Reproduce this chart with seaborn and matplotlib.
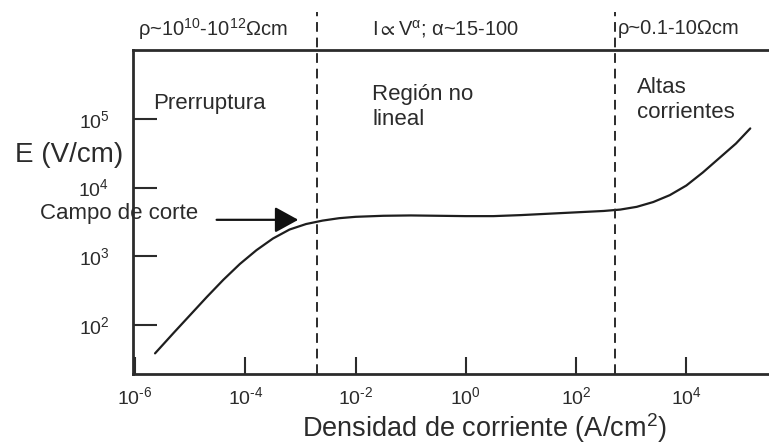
import matplotlib
matplotlib.use("Agg")
import matplotlib.pyplot as plt
import numpy as np
import pandas as pd
import seaborn as sns

# curve (exponents of ten)
log_current = [-5.64, -5.30, -5.00, -4.70, -4.40, -4.10, -3.80, -3.50, -3.20,
               -2.90, -2.60, -2.30, -2.00, -1.50, -1.00, -0.50, 0.00, 0.50,
               1.00, 1.50, 2.00, 2.50, 2.80, 3.10, 3.40, 3.70, 4.00, 4.30,
               4.60, 4.90, 5.16]
log_field = [1.59, 1.89, 2.15, 2.41, 2.66, 2.89, 3.09, 3.26, 3.39,
             3.47, 3.52, 3.555, 3.575, 3.59, 3.595, 3.59, 3.585, 3.585,
             3.60, 3.62, 3.64, 3.66, 3.68, 3.72, 3.79, 3.89, 4.03, 4.22,
             4.43, 4.64, 4.86]

region_bounds = [2e-3, 5e2]
x_exps = [-6, -4, -2, 0, 2, 4]
y_exps = [2, 3, 4, 5]
top_labels = ["ρ~10$^{10}$-10$^{12}$Ωcm", "I$\\propto$V$^{α}$; α~15-100",
              "ρ~0.1-10Ωcm"]
region_labels = ["Prerruptura", "Región no\nlineal", "Altas\ncorrientes"]
cutoff_point = (9.1e-4, 3.4e3)
cutoff_tail = (3.0e-5, 3.4e3)

df = pd.DataFrame({"j": 10.0 ** np.array(log_current),
                   "E": 10.0 ** np.array(log_field)})

sns.set_theme(style="ticks")
plt.rcParams["font.family"] = ["Liberation Sans", "DejaVu Sans"]
plt.rcParams["mathtext.fontset"] = "custom"
plt.rcParams["mathtext.rm"] = "Liberation Sans"
plt.rcParams["mathtext.it"] = "Liberation Sans"
plt.rcParams["mathtext.default"] = "regular"


def power_label(e):
    # plain hyphen in the exponent, as in the original figure
    return "10$^{\\text{%s}}$" % ("-%d" % -e if e < 0 else "%d" % e)


ink = "#2b2b2b"
W, H = 769, 445
fig = plt.figure(figsize=(W / 100, H / 100), dpi=100)
ax = fig.add_axes([133 / W, (H - 374) / H, (W - 133) / W, (374 - 50) / H])

sns.lineplot(data=df, x="j", y="E", ax=ax, color="#1e1e1e", linewidth=1.6,
             sort=False, estimator=None)
ax.set_xscale("log")
ax.set_yscale("log")
ax.set_xlim(10 ** -6.04, 10 ** 5.5)
ax.set_ylim(10 ** 1.29, 10 ** 6.0)
ax.set_xticks([10.0 ** e for e in x_exps], [power_label(e) for e in x_exps])
ax.set_yticks([10.0 ** e for e in y_exps], [power_label(e) for e in y_exps])
ax.minorticks_off()

for side in ["left", "bottom", "top"]:
    ax.spines[side].set_linewidth(2.0)
    ax.spines[side].set_color(ink)
ax.spines["right"].set_visible(False)
ax.tick_params(axis="y", direction="in", length=17, width=1.5, pad=17,
               labelsize=14, colors=ink)
ax.tick_params(axis="x", direction="in", length=12, width=1.5, pad=9,
               labelsize=14, colors=ink)

for xb in region_bounds:
    ax.axvline(xb, ymin=0, ymax=1.117, clip_on=False, color=ink,
               linewidth=1.4, linestyle=(0, (5, 3)))

ax.set_xlabel("Densidad de corriente (A/cm$^{2}$)", fontsize=19.5, color=ink,
              va="center")
ax.xaxis.set_label_coords(0.552, -0.168)
ax.set_ylabel("E (V/cm)", fontsize=20, color=ink, rotation=0,
              ha="center", va="center")
ax.yaxis.set_label_coords(-0.1006, 0.676)

# labels above the frame
for text, px in zip(top_labels, [138, 372, 618]):
    fig.text(px / W, 1 - 29 / H, text, fontsize=14.5, color=ink,
             ha="left", va="center")

# region names inside the frame
for text, px, py in zip(region_labels, [153, 372, 637], [103, 107, 100]):
    fig.text(px / W, 1 - py / H, text, fontsize=16, color=ink,
             ha="left", va="center", linespacing=1.25)

fig.text(40 / W, 1 - 213 / H, "Campo de corte", fontsize=16, color=ink,
         ha="left", va="center")
ax.annotate("", xy=cutoff_point, xytext=cutoff_tail,
            arrowprops=dict(arrowstyle="-|>,head_length=0.4,head_width=0.22",
                            mutation_scale=36, lw=1.6, color="#111111",
                            shrinkA=0, shrinkB=0))

fig.savefig("out.png", dpi=100)
